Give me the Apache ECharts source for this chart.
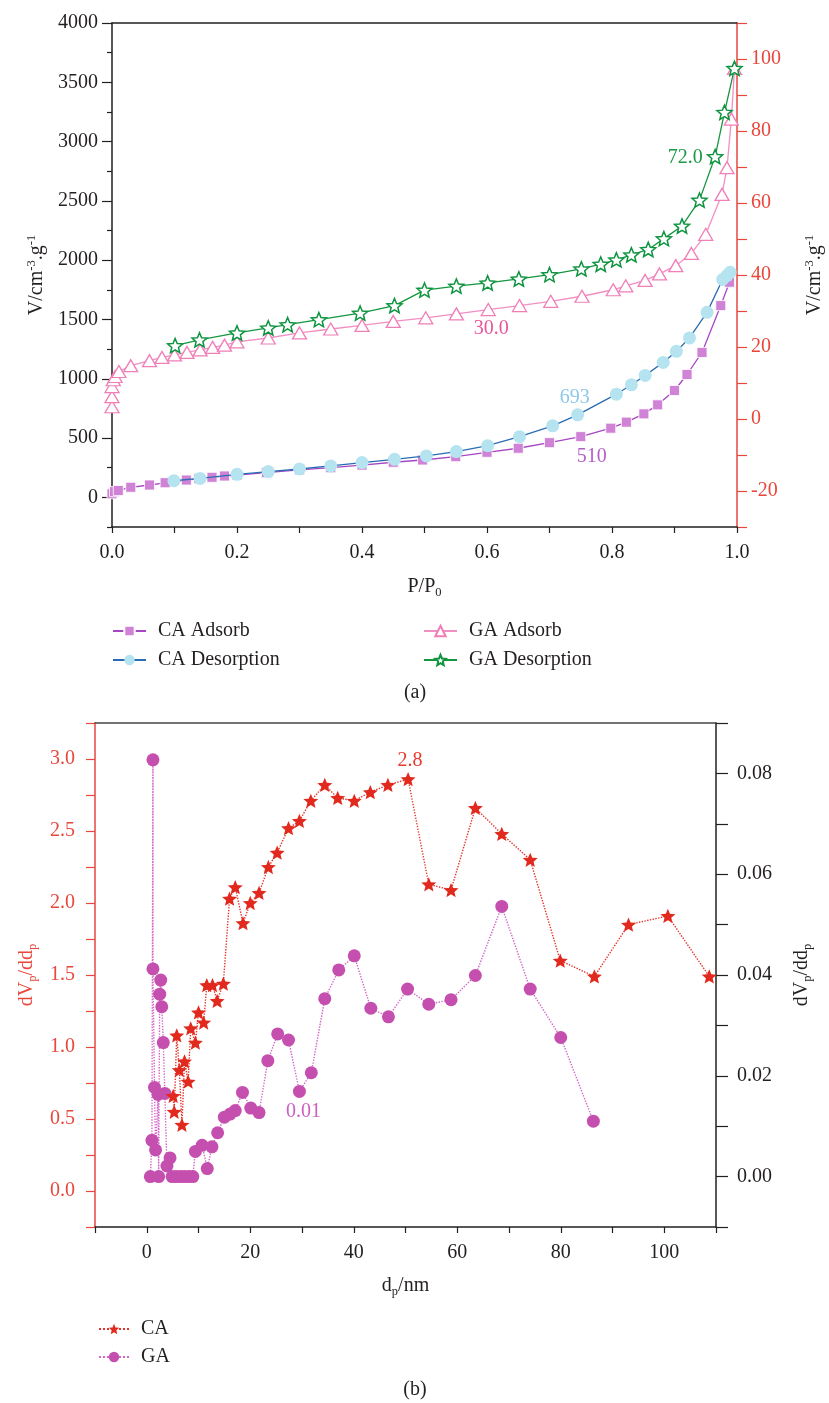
<!DOCTYPE html>
<html><head><meta charset="utf-8">
<script src="https://cdn.jsdelivr.net/npm/echarts@6/dist/echarts.min.js"></script>
<style>html,body{margin:0;padding:0;background:#fff}#c{width:829px;height:1403px}</style>
</head><body><div id="c"></div>
<script>
// ===== (a) N2 isotherms: [P/P0, V] =====
const caAdsorb = [[0.0,30],[0.004,48],[0.01,58],[0.03,85],[0.06,104],[0.085,123],[0.119,146],[0.139,157],[0.16,169],[0.18,180],[0.20,188],[0.247,208],[0.30,232],[0.35,250],[0.40,272],[0.45,296],[0.497,315],[0.55,343],[0.60,380],[0.65,414],[0.70,461],[0.75,512],[0.798,583],[0.823,634],[0.851,704],[0.873,780],[0.90,901],[0.92,1036],[0.944,1222],[0.974,1617],[0.988,1814]];
const caDesorption = [[0.099,140],[0.141,160],[0.20,194],[0.25,217],[0.30,239],[0.35,265],[0.40,293],[0.452,321],[0.503,349],[0.551,386],[0.601,436],[0.652,512],[0.705,603],[0.745,696],[0.807,870],[0.831,949],[0.853,1028],[0.882,1138],[0.903,1231],[0.924,1344],[0.952,1560],[0.977,1837],[0.984,1870],[0.989,1898]];
const gaAdsorb = [[0.0,3.4],[0.0,6.2],[0.0,9.0],[0.002,10.9],[0.005,11.8],[0.011,13.2],[0.03,14.8],[0.06,16.2],[0.08,17.1],[0.10,17.8],[0.12,18.5],[0.141,19.2],[0.161,19.9],[0.18,20.5],[0.20,21.4],[0.25,22.5],[0.30,23.9],[0.35,25.0],[0.40,26.0],[0.45,27.1],[0.502,28.1],[0.551,29.2],[0.602,30.4],[0.652,31.5],[0.702,32.7],[0.752,34.1],[0.802,35.9],[0.822,37.0],[0.853,38.5],[0.876,40.3],[0.902,42.6],[0.927,46.0],[0.950,51.3],[0.976,62.4],[0.984,69.8],[0.991,83.3],[0.996,97.4]];
const gaDesorption = [[0.101,20.4],[0.14,22.0],[0.20,23.9],[0.25,25.3],[0.281,26.2],[0.331,27.6],[0.397,29.4],[0.452,31.5],[0.50,35.8],[0.551,36.9],[0.601,37.8],[0.651,38.9],[0.70,40.1],[0.751,41.7],[0.782,43.0],[0.807,44.2],[0.831,45.6],[0.858,47.1],[0.883,50.1],[0.912,53.6],[0.940,60.8],[0.965,72.9],[0.980,85.2],[0.996,97.4]];
const aLeftTickLabels = [0,500,1000,1500,2000,2500,3000,3500,4000];
const aLeftMinorTicks = [-250,250,750,1250,1750,2250,2750,3250,3750];
// annotations (a): [series, x, y, text]
const aNotes = [['GA Desorption',0.965,72.9,'72.0'],['GA Adsorb',0.602,30.4,'30.0'],['CA Desorption',0.745,696,'693'],['CA Adsorb',0.75,512,'510']];

// ===== (b) pore size distribution: [dp, dVp/ddp] =====
const caPore = [[5.1,0.66],[5.3,0.55],[5.8,1.08],[6.3,0.84],[6.8,0.46],[7.3,0.90],[8.0,0.76],[8.5,1.13],[9.4,1.03],[10.0,1.24],[11.0,1.17],[11.6,1.43],[12.7,1.43],[13.6,1.32],[14.8,1.44],[16.0,2.03],[17.1,2.11],[18.6,1.86],[20.0,2.0],[21.7,2.07],[23.5,2.25],[25.2,2.35],[27.4,2.52],[29.5,2.57],[31.7,2.71],[34.4,2.82],[36.9,2.73],[40.1,2.71],[43.2,2.77],[46.6,2.82],[50.5,2.86],[54.5,2.13],[58.8,2.09],[63.5,2.66],[68.6,2.48],[74.1,2.30],[79.9,1.60],[86.5,1.49],[93.1,1.85],[100.7,1.91],[108.7,1.49]];
const gaPore = [[0.7,0.0],[1.0,0.0072],[1.2,0.0827],[1.2,0.0412],[1.5,0.0177],[1.7,0.0053],[2.2,0.0163],[2.3,0.0],[2.5,0.0362],[2.7,0.039],[2.9,0.0337],[3.2,0.0266],[3.5,0.0165],[3.9,0.0021],[4.5,0.0037],[4.9,0.0],[5.7,0.0],[6.5,0.0],[7.3,0.0],[8.1,0.0],[8.9,0.0],[9.4,0.005],[10.7,0.0062],[11.7,0.0016],[12.6,0.0059],[13.7,0.0087],[15.0,0.0118],[16.1,0.0124],[17.1,0.0131],[18.5,0.0167],[20.1,0.0136],[21.7,0.0127],[23.4,0.023],[25.3,0.0283],[27.4,0.0271],[29.5,0.0169],[31.8,0.0206],[34.4,0.0353],[37.1,0.041],[40.1,0.0438],[43.3,0.0334],[46.7,0.0317],[50.4,0.0372],[54.5,0.0342],[58.8,0.0351],[63.5,0.0399],[68.6,0.0536],[74.1,0.0372],[80.0,0.0276],[86.3,0.011]];
const bNotes = [['CA',50.5,2.86,'2.8'],['GA',29.5,0.0169,'0.01']];

// ===== styling =====
const FONT = '"Liberation Serif", "DejaVu Serif", serif';
const FS = 20;
const INK = '#231f20';
const RED = '#e8473c';
function starPath(inner){
  let s='path://';
  for(let k=0;k<10;k++){
    const a=(-90+36*k)*Math.PI/180, r=(k%2)?inner:1;
    s+=(k?'L':'M')+(50+50*r*Math.cos(a)).toFixed(2)+' '+(50+50*r*Math.sin(a)).toFixed(2);
  }
  return s+'Z';
}
const STAR = starPath(0.45);
const near = (v,step)=>Math.abs(v/step-Math.round(v/step))<1e-6;
const richName = {
  n:{fontFamily:FONT,fontSize:FS,lineHeight:24},
  sup:{fontFamily:FONT,fontSize:12.5,lineHeight:12,verticalAlign:'top'},
  sub:{fontFamily:FONT,fontSize:12.5,lineHeight:12,verticalAlign:'bottom'}
};
function nameStyle(color){
  const r={};
  for(const k in richName) r[k]=Object.assign({color:color},richName[k]);
  return {color:color,fontFamily:FONT,fontSize:FS,rich:r};
}
const lbl = (color)=>({fontFamily:FONT,fontSize:FS,color:color});

const noteStyle = {
  '72.0':{color:'#1a9a47',offset:[-30,1]},
  '30.0':{color:'#e9559a',offset:[3,19]},
  '693':{color:'#8cc8ea',offset:[-3,-17]},
  '510':{color:'#b45fc8',offset:[11,20]},
  '2.8':{color:'#e8392c',offset:[2,-18]},
  '0.01':{color:'#cc5fc0',offset:[4,20]}
};
function marks(notes,name){
  const d=notes.filter(n=>n[0]===name).map(n=>({coord:[n[1],n[2]],value:n[3],
    label:{show:true,position:'inside',formatter:n[3],fontFamily:FONT,fontSize:FS,
      color:noteStyle[n[3]].color,offset:noteStyle[n[3]].offset}}));
  return d.length?{symbol:'circle',symbolSize:0.1,itemStyle:{color:'transparent'},data:d,animation:false}:undefined;
}
const line = (color,w)=>({onZero:false,lineStyle:{color:color,width:w}});

const chart = echarts.init(document.getElementById('c'),null,{renderer:'canvas'});
const opt = {
  animation:false,
  backgroundColor:'#fff',
  textStyle:{fontFamily:FONT,color:INK},
  grid:[
    {left:112,right:92,top:23,height:504,containLabel:false,outerBoundsMode:'none'},
    {left:95,right:113,top:723,height:504,containLabel:false,outerBoundsMode:'none'}
  ],
  xAxis:[
    {gridIndex:0,type:'value',min:0,max:1,interval:0.1,
     axisLine:line(INK,1.5),
     axisTick:{length:6,lineStyle:{color:INK,width:1.2}},
     axisLabel:Object.assign(lbl(INK),{margin:16,formatter:v=>near(v,0.2)?v.toFixed(1):''}),
     splitLine:{show:false},
     name:'{n|P/P}{sub|0}',nameLocation:'middle',nameGap:48,nameTextStyle:nameStyle(INK)},
    {gridIndex:0,type:'value',min:0,max:1,position:'top',
     axisLine:line(INK,1.5),axisTick:{show:false},axisLabel:{show:false},splitLine:{show:false}},
    {gridIndex:1,type:'value',min:-10,max:110,interval:10,
     axisLine:line(INK,1.5),
     axisTick:{length:6,lineStyle:{color:INK,width:1.2}},
     axisLabel:Object.assign(lbl(INK),{margin:16,formatter:v=>near(v,20)?String(Math.round(v)):''}),
     splitLine:{show:false},
     name:'{n|d}{sub|p}{n|/nm}',nameLocation:'middle',nameGap:47,nameTextStyle:nameStyle(INK)},
    {gridIndex:1,type:'value',min:-10,max:110,position:'top',
     axisLine:line('#444',1.5),axisTick:{show:false},axisLabel:{show:false},splitLine:{show:false}}
  ],
  yAxis:[
    {gridIndex:0,type:'value',min:-250,max:4000,position:'left',
     axisLine:Object.assign({show:true},line(INK,1.5)),
     axisTick:{show:true,length:10,customValues:aLeftTickLabels,lineStyle:{color:INK,width:1.2}},
     axisLabel:Object.assign(lbl(INK),{margin:14,customValues:aLeftTickLabels,formatter:v=>String(Math.round(v))}),
     splitLine:{show:false},
     name:'{n|V/cm}{sup|-3}{n|.g}{sup|-1}',nameLocation:'middle',nameGap:32,nameTextStyle:nameStyle(INK)},
    {gridIndex:0,type:'value',min:-250,max:4000,position:'left',
     axisLine:{show:false,onZero:false},
     axisTick:{show:true,length:5,customValues:aLeftMinorTicks,lineStyle:{color:INK,width:1.2}},
     axisLabel:{show:false},splitLine:{show:false}},
    {gridIndex:0,type:'value',min:-30,max:110,interval:10,position:'right',
     axisLine:Object.assign({show:true},line(RED,1.5)),
     axisTick:{show:true,length:10,lineStyle:{color:RED,width:1.2}},
     axisLabel:Object.assign(lbl(RED),{margin:14,formatter:v=>(near(v,20)&&v>=-20&&v<=100)?String(Math.round(v)):''}),
     splitLine:{show:false},
     name:'{n|V/cm}{sup|-3}{n|.g}{sup|-1}',nameLocation:'middle',nameGap:66,nameTextStyle:nameStyle(INK)},
    {gridIndex:1,type:'value',min:-0.25,max:3.25,interval:0.25,position:'left',
     axisLine:Object.assign({show:true},line(RED,1.5)),
     axisTick:{show:true,length:9,lineStyle:{color:RED,width:1.2}},
     axisLabel:Object.assign(lbl(RED),{margin:20,formatter:v=>(near(v,0.5)&&v>-1e-9&&v<3.0001)?Math.abs(v).toFixed(1):''}),
     splitLine:{show:false},
     name:'{n|dV}{sub|p}{n|/dd}{sub|p}',nameLocation:'middle',nameGap:48,nameTextStyle:nameStyle(RED)},
    {gridIndex:1,type:'value',min:-0.01,max:0.09,interval:0.01,position:'right',
     axisLine:Object.assign({show:true},line(INK,1.5)),
     axisTick:{show:true,length:12,lineStyle:{color:INK,width:1.2}},
     axisLabel:Object.assign(lbl(INK),{margin:21,formatter:v=>(near(v,0.02)&&v>-1e-9&&v<0.0801)?Math.abs(v).toFixed(2):''}),
     splitLine:{show:false},
     name:'{n|dV}{sub|p}{n|/dd}{sub|p}',nameLocation:'middle',nameGap:74,nameTextStyle:nameStyle(INK)}
  ],
  legend:[
    {data:['CA Adsorb'],left:107,top:616,itemWidth:33},
    {data:['GA Adsorb'],left:418,top:616,itemWidth:33},
    {data:['CA Desorption'],left:107,top:645,itemWidth:33},
    {data:['GA Desorption'],left:418,top:645,itemWidth:33},
    {data:['CA'],left:93,top:1314,itemWidth:30},
    {data:['GA'],left:93,top:1342,itemWidth:30}
  ].map(l=>Object.assign({itemHeight:13,selectedMode:false,
      textStyle:{fontFamily:FONT,fontSize:FS,color:INK,padding:[0,0,0,7]}},l)),
  graphic:[
    {type:'text',x:415,y:693,style:{text:'(a)',font:FS+'px '+FONT,fill:INK,align:'center',verticalAlign:'middle',textAlign:'center',textVerticalAlign:'middle'}},
    {type:'text',x:415,y:1390,style:{text:'(b)',font:FS+'px '+FONT,fill:INK,align:'center',verticalAlign:'middle',textAlign:'center',textVerticalAlign:'middle'}}
  ],
  series:[
    {name:'CA Adsorb',type:'line',xAxisIndex:0,yAxisIndex:0,data:caAdsorb,showAllSymbol:true,
     symbol:'rect',symbolSize:10,lineStyle:{color:'#a746c3',width:1.3},
     itemStyle:{color:'#cf82d6',borderColor:'#fff',borderWidth:0.8},markPoint:marks(aNotes,'CA Adsorb'),z:3},
    {name:'CA Desorption',type:'line',xAxisIndex:0,yAxisIndex:0,data:caDesorption,showAllSymbol:true,
     symbol:'circle',symbolSize:13,lineStyle:{color:'#2a6cb3',width:1.3},
     itemStyle:{color:'#b5e4f0',borderColor:'#b5e4f0',borderWidth:0},markPoint:marks(aNotes,'CA Desorption'),z:4},
    {name:'GA Adsorb',type:'line',xAxisIndex:0,yAxisIndex:2,data:gaAdsorb,showAllSymbol:true,
     symbol:'triangle',symbolSize:[14,12],lineStyle:{color:'#f18fc2',width:1.3},
     itemStyle:{color:'#fff',borderColor:'#f07fb8',borderWidth:1.3},markPoint:marks(aNotes,'GA Adsorb'),z:3},
    {name:'GA Desorption',type:'line',xAxisIndex:0,yAxisIndex:2,data:gaDesorption,showAllSymbol:true,
     symbol:STAR,symbolSize:15,symbolKeepAspect:true,lineStyle:{color:'#14973e',width:1.3},
     itemStyle:{color:'#fff',borderColor:'#0e9440',borderWidth:1.5},markPoint:marks(aNotes,'GA Desorption'),z:4},
    {name:'CA',type:'line',xAxisIndex:2,yAxisIndex:3,data:caPore,showAllSymbol:true,
     symbol:STAR,symbolSize:15,symbolKeepAspect:true,lineStyle:{color:'#e4322a',width:1.4,type:'dotted'},
     itemStyle:{color:'#e1291d'},markPoint:marks(bNotes,'CA'),z:4},
    {name:'GA',type:'line',xAxisIndex:2,yAxisIndex:4,data:gaPore,showAllSymbol:true,
     symbol:'circle',symbolSize:13,lineStyle:{color:'#d266c6',width:1.4,type:'dotted'},
     itemStyle:{color:'#c54fae'},markPoint:marks(bNotes,'GA'),z:3}
  ]
};
chart.setOption(opt);
</script></body></html>
